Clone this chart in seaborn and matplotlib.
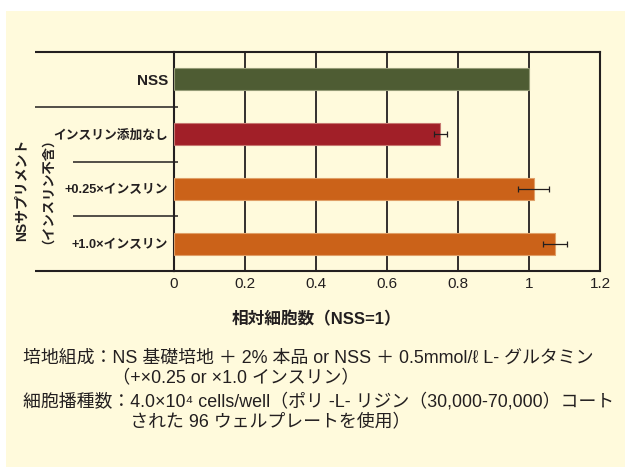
import matplotlib
matplotlib.use("Agg")
import matplotlib.pyplot as plt
import matplotlib.transforms as mtransforms
from matplotlib.colors import to_rgb
from matplotlib.patches import Rectangle
import seaborn as sns
import pandas as pd

# Relative cell counts (NSS = 1) for each supplement condition
categories = ["NSS", "インスリン添加なし", "+0.25×インスリン", "+1.0×インスリン"]
relative_counts = [1.0, 0.75, 1.013, 1.074]
errors = [0.0, 0.019, 0.044, 0.034]
bar_colors = ["#4E5C33", "#A11F28", "#CB6219", "#CB6219"]
x_ticks = [0, 0.2, 0.4, 0.6, 0.8, 1.0, 1.2]
x_tick_labels = ["0", "0.2", "0.4", "0.6", "0.8", "1", "1.2"]

ylabel_lines = ["NSサプリメント", "（インスリン不含）"]
xlabel = "相対細胞数（NSS=1）"
notes = [
    "培地組成：NS 基礎培地 ＋ 2% 本品 or NSS ＋ 0.5mmol/ℓ L- グルタミン",
    "　　　　　（+×0.25 or ×1.0 インスリン）",
    "細胞播種数：4.0×10⁴ cells/well（ポリ -L- リジン（30,000-70,000）コート",
    "　　　　　　された 96 ウェルプレートを使用）",
]

sns.set_style("white")
plt.rcParams["font.family"] = ["Liberation Sans", "Noto Sans CJK JP", "DejaVu Sans"]

CREAM = "#FFFADC"
INK = "#231F20"
W, H = 625, 467

fig = plt.figure(figsize=(W / 100, H / 100), dpi=100, facecolor="white")
fig.patches.append(Rectangle((6 / W, 0), 1 - 6 / W, 1 - 11 / H,
                             transform=fig.transFigure, facecolor=CREAM,
                             edgecolor="none", zorder=-10))

ax = fig.add_axes([174 / W, 1 - 271 / H, 426 / W, 219 / H])
ax.set_facecolor(CREAM)

df = pd.DataFrame({"group": categories, "value": relative_counts})
sns.barplot(data=df, x="value", y="group", hue="group", palette=bar_colors,
            legend=False, width=0.4, errorbar=None, saturation=1,
            ax=ax, zorder=3)

# soft, lighter outline around each bar
cream_rgb = to_rgb(CREAM)
for patch, col in zip(ax.patches, bar_colors):
    rgb = to_rgb(col)
    edge = tuple(0.6 * c + 0.4 * b for c, b in zip(rgb, cream_rgb))
    patch.set_edgecolor(edge)
    patch.set_linewidth(0.8)

# error bars for the insulin conditions
positions = list(range(len(categories)))
ax.errorbar(relative_counts[1:], positions[1:], xerr=errors[1:], fmt="none",
            ecolor=INK, elinewidth=0.9, capsize=2.2, capthick=0.9, zorder=4)

ax.set_xlim(0, 1.2)
ax.set_ylim(3.5, -0.5)
for v in x_ticks[1:-1]:
    ax.axvline(v, color=INK, lw=1.3, zorder=1)

for s in ax.spines.values():
    s.set_color(INK)
    s.set_linewidth(1.5)
    s.set_visible(True)

ax.set_xticks(x_ticks)
ax.set_xticklabels(x_tick_labels, fontsize=11, color=INK)
ax.tick_params(axis="x", length=0, pad=4)
ax.tick_params(axis="y", length=0, pad=4.5)
ax.set_xlabel("")
ax.set_ylabel("")
for lbl in ax.get_yticklabels():
    lbl.set_color(INK)
    lbl.set_fontweight("bold")
    lbl.set_fontsize(11 if lbl.get_text() == "NSS" else 9.2)

# row separators extending left of the axes
trans = mtransforms.blended_transform_factory(fig.transFigure, ax.transData)
for y, x0, x1 in [(-0.5, 35, 175), (3.5, 35, 175), (0.5, 35, 178),
                  (1.5, 73, 178), (2.5, 73, 178)]:
    ax.plot([x0 / W, x1 / W], [y, y], transform=trans, color=INK,
            lw=1.5 if y in (-0.5, 3.5) else 1.1, clip_on=False,
            solid_capstyle="butt")

fig.text(22 / W, 1 - 190 / H, ylabel_lines[0], rotation=90, ha="center",
         va="center", fontsize=10, fontweight="bold", color=INK)
fig.text(42 / W, 1 - 184 / H, ylabel_lines[1], rotation=90, ha="center",
         va="center", fontsize=9.5, fontweight="bold", color=INK)
fig.text(317 / W, 1 - 319 / H, xlabel, ha="center", va="center",
         fontsize=12, fontweight="bold", color=INK)

for txt, y in zip(notes, [358, 379, 402, 423]):
    fig.text(23 / W, 1 - y / H, txt, ha="left", va="center",
             fontsize=12.9, color=INK)

fig.savefig("out.png", dpi=100, facecolor="white")
